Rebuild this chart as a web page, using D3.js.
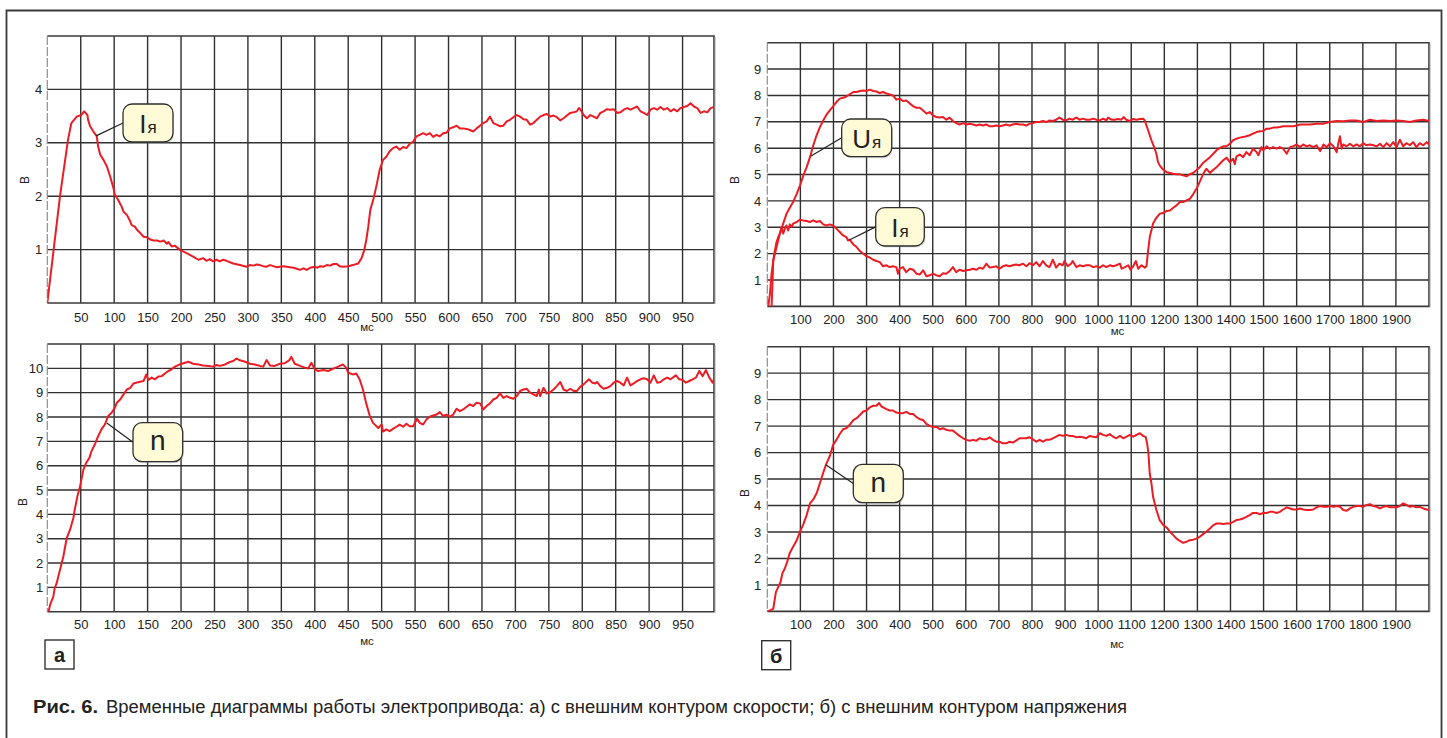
<!DOCTYPE html>
<html>
<head>
<meta charset="utf-8">
<script src="https://cdn.jsdelivr.net/npm/d3@7"></script>
<style>
  body { margin: 0; background: #fff; }
  svg { display: block; }
  text { font-family: "Liberation Sans", Arial, Helvetica, sans-serif; fill: #222; }
</style>
</head>
<body>
<svg id="fig" width="1447" height="738"></svg>
<script>
// ---- Measured oscillograms: [time, ms ; signal, V] ----

// (a) speed loop: armature current Iя
const currentA = [
  [0,0],[19,2.0],[31,3.06],[36,3.37],[44,3.49],[51,3.52],[55,3.59],[60,3.52],[61,3.43],[64,3.31],
  [69,3.21],[74,3.12],[76,2.93],[79,2.78],[84,2.68],[89,2.56],[94,2.37],[99,2.15],[101,2.03],[106,1.93],
  [111,1.81],[114,1.71],[119,1.65],[124,1.53],[126,1.46],[131,1.43],[134,1.37],[139,1.31],[144,1.24],[149,1.23],
  [154,1.19],[159,1.17],[164,1.17],[169,1.15],[174,1.17],[179,1.11],[181,1.14],[186,1.06],[191,1.07],[199,0.99],
  [209,0.93],[218,0.87],[226,0.81],[233,0.84],[238,0.79],[243,0.82],[248,0.78],[253,0.81],[258,0.78],[263,0.81],
  [268,0.79],[278,0.74],[288,0.71],[298,0.68],[303,0.71],[308,0.70],[313,0.72],[318,0.71],[323,0.69],[328,0.68],
  [333,0.71],[338,0.69],[343,0.67],[348,0.68],[353,0.69],[358,0.68],[363,0.67],[368,0.66],[373,0.64],[378,0.62],
  [383,0.65],[388,0.62],[393,0.66],[400,0.68],[404,0.66],[408,0.69],[413,0.68],[418,0.71],[423,0.70],[428,0.73],
  [433,0.73],[437,0.69],[442,0.68],[450,0.69],[457,0.71],[465,0.74],[470,0.84],[474,0.99],[477,1.18],[480,1.43],
  [483,1.74],[488,1.96],[493,2.24],[497,2.49],[502,2.68],[507,2.74],[512,2.84],[517,2.90],[522,2.93],[527,2.87],
  [532,2.92],[537,2.90],[542,2.98],[547,3.02],[552,3.12],[557,3.15],[562,3.18],[567,3.15],[572,3.18],[577,3.11],
  [582,3.15],[587,3.12],[592,3.18],[597,3.19],[602,3.27],[607,3.29],[612,3.32],[617,3.27],[622,3.27],[627,3.26],
  [632,3.24],[637,3.21],[642,3.27],[647,3.32],[652,3.37],[657,3.40],[662,3.49],[667,3.37],[672,3.34],[677,3.31],
  [682,3.32],[687,3.40],[692,3.43],[697,3.48],[702,3.52],[707,3.49],[712,3.44],[717,3.43],[722,3.34],[727,3.37],
  [732,3.43],[737,3.49],[742,3.52],[747,3.54],[752,3.49],[757,3.51],[762,3.48],[767,3.42],[772,3.46],[777,3.51],
  [782,3.56],[787,3.57],[792,3.59],[795,3.65],[797,3.63],[802,3.52],[807,3.46],[812,3.52],[817,3.49],[822,3.46],
  [827,3.56],[832,3.59],[837,3.63],[842,3.62],[847,3.63],[852,3.56],[857,3.57],[862,3.62],[867,3.65],[872,3.62],
  [877,3.65],[882,3.68],[887,3.59],[892,3.56],[897,3.52],[902,3.62],[907,3.65],[912,3.62],[917,3.67],[922,3.62],
  [927,3.65],[932,3.59],[937,3.63],[942,3.59],[947,3.65],[952,3.67],[957,3.69],[962,3.74],[967,3.68],[972,3.65],
  [977,3.56],[982,3.59],[987,3.57],[992,3.65],[997,3.67]
];

// (a) speed loop: speed n
const speedA = [
  [2,0],[4,0.27],[9,0.62],[11,0.96],[14,1.17],[19,1.72],[24,2.27],[29,3.02],[34,3.37],[39,3.85],
  [41,4.19],[45,4.74],[49,5.15],[54,5.84],[58,6.11],[63,6.32],[66,6.59],[71,6.87],[76,7.21],[81,7.49],
  [86,7.69],[91,8.04],[96,8.17],[101,8.38],[104,8.59],[109,8.72],[114,8.93],[119,9.13],[124,9.20],[129,9.38],
  [134,9.42],[139,9.45],[144,9.48],[148,9.75],[151,9.52],[156,9.62],[161,9.55],[166,9.66],[171,9.68],[176,9.79],
  [181,9.89],[186,9.96],[191,10.07],[198,10.16],[206,10.23],[211,10.27],[218,10.19],[226,10.16],[233,10.12],[241,10.10],
  [248,10.07],[253,10.14],[258,10.10],[266,10.16],[273,10.26],[278,10.30],[283,10.40],[288,10.33],[296,10.27],[303,10.19],
  [310,10.16],[318,10.10],[323,10.07],[328,10.34],[333,10.12],[340,10.10],[348,10.19],[355,10.21],[362,10.34],[365,10.47],
  [370,10.19],[378,10.10],[385,10.03],[390,9.99],[395,10.23],[400,9.96],[405,9.89],[413,9.93],[420,9.89],[428,9.99],
  [435,10.07],[442,10.16],[447,10.03],[450,9.82],[457,9.75],[462,9.79],[467,9.55],[472,9.13],[477,8.55],[482,8.07],
  [487,7.76],[495,7.55],[500,7.69],[502,7.40],[507,7.49],[512,7.42],[517,7.51],[522,7.60],[527,7.69],[532,7.60],
  [537,7.72],[542,7.62],[547,7.62],[553,7.93],[557,7.76],[562,7.69],[567,7.90],[572,8.01],[577,8.06],[582,8.10],
  [587,8.20],[592,8.04],[597,8.10],[602,8.01],[607,8.10],[612,8.34],[617,8.24],[622,8.31],[627,8.42],[632,8.52],
  [637,8.45],[642,8.59],[647,8.56],[652,8.31],[657,8.45],[662,8.56],[667,8.72],[672,8.79],[677,8.97],[682,8.79],
  [687,8.86],[692,8.79],[697,8.75],[702,8.86],[707,9.07],[712,9.13],[717,9.16],[722,9.00],[727,8.93],[732,8.86],
  [735,9.13],[737,8.86],[742,9.20],[747,8.97],[752,9.02],[757,9.13],[762,9.27],[767,9.44],[772,9.13],[777,9.07],
  [782,9.16],[787,9.07],[792,9.07],[797,9.24],[802,9.34],[810,9.55],[815,9.41],[820,9.38],[822,9.44],[827,9.27],
  [832,9.16],[837,9.20],[842,9.27],[847,9.41],[852,9.48],[857,9.41],[862,9.30],[867,9.62],[872,9.30],[877,9.38],
  [882,9.48],[887,9.55],[892,9.59],[897,9.55],[902,9.41],[907,9.71],[912,9.41],[917,9.44],[922,9.55],[927,9.62],
  [932,9.55],[940,9.71],[945,9.55],[950,9.52],[955,9.41],[960,9.48],[965,9.55],[970,9.62],[975,9.89],[980,9.68],
  [985,9.93],[990,9.62],[995,9.41],[997,9.55]
];

// (б) voltage loop: armature voltage Uя
const voltageB = [
  [3,0],[8,0.48],[13,1.24],[18,1.74],[28,2.25],[38,2.76],[48,3.14],[58,3.51],[68,3.74],[78,3.96],
  [89,4.27],[99,4.59],[109,4.97],[119,5.28],[129,5.66],[139,6.11],[149,6.49],[159,6.80],[169,7.05],[179,7.27],
  [189,7.43],[199,7.59],[209,7.75],[219,7.88],[229,7.91],[239,7.96],[249,8.04],[260,8.13],[270,8.13],[280,8.17],
  [290,8.19],[300,8.17],[310,8.22],[320,8.17],[330,8.15],[340,8.09],[350,8.13],[360,8.07],[370,8.04],[380,8.00],
  [390,7.84],[400,7.88],[410,7.79],[420,7.81],[431,7.69],[441,7.59],[451,7.53],[461,7.53],[471,7.43],[481,7.31],
  [491,7.37],[501,7.24],[511,7.18],[521,7.16],[531,7.18],[541,7.08],[551,7.16],[561,7.03],[571,6.95],[581,6.90],
  [592,6.95],[602,6.90],[612,6.93],[622,6.90],[632,6.86],[642,6.90],[652,6.86],[662,6.90],[672,6.83],[682,6.83],
  [692,6.86],[702,6.83],[712,6.86],[722,6.90],[732,6.86],[742,6.90],[752,6.93],[762,6.90],[773,6.90],[783,6.86],
  [793,6.93],[803,6.95],[813,6.99],[823,6.99],[833,7.03],[843,6.99],[853,7.05],[863,7.03],[873,7.08],[883,7.16],
  [893,7.08],[903,7.05],[913,7.12],[923,7.08],[934,7.16],[944,7.08],[954,7.12],[964,7.08],[975,7.08],[985,7.12],
  [995,7.08],[1005,7.05],[1015,7.12],[1025,7.05],[1030,7.16],[1040,7.08],[1050,7.08],[1060,7.11],[1070,7.08],[1077,7.18],
  [1085,7.08],[1095,7.03],[1106,7.11],[1116,7.08],[1126,7.11],[1136,7.12],[1141,7.05],[1146,6.86],[1151,6.68],[1156,6.49],
  [1161,6.30],[1166,6.14],[1171,5.98],[1176,5.79],[1181,5.47],[1186,5.35],[1197,5.18],[1207,5.09],[1217,5.06],[1227,5.03],
  [1237,5.01],[1247,5.01],[1257,4.97],[1267,4.93],[1277,5.01],[1287,5.06],[1297,5.16],[1307,5.28],[1317,5.44],[1327,5.54],
  [1338,5.66],[1348,5.79],[1358,5.92],[1368,6.01],[1378,6.07],[1388,6.07],[1398,6.17],[1408,6.30],[1418,6.36],[1428,6.40],
  [1438,6.42],[1448,6.45],[1458,6.49],[1468,6.55],[1479,6.61],[1489,6.64],[1499,6.65],[1509,6.74],[1519,6.74],[1529,6.78],
  [1539,6.78],[1549,6.80],[1559,6.83],[1570,6.83],[1580,6.83],[1590,6.83],[1600,6.86],[1610,6.90],[1620,6.90],[1640,6.90],
  [1660,6.93],[1680,6.93],[1700,6.99],[1721,7.03],[1741,7.02],[1761,7.05],[1781,7.05],[1801,6.99],[1821,7.08],[1842,7.03],
  [1862,7.05],[1882,7.03],[1902,7.05],[1922,7.03],[1942,6.99],[1962,7.05],[1983,7.08],[2000,7.03]
];

// (б) voltage loop: armature current Iя
const currentB = [
  [13,0],[16,0.99],[18,1.74],[23,2.12],[28,2.44],[33,2.63],[38,2.76],[43,3.01],[48,2.76],[53,2.95],
  [58,3.07],[63,2.88],[68,3.11],[74,3.01],[78,3.14],[89,3.20],[99,3.29],[109,3.26],[119,3.24],[129,3.20],
  [139,3.26],[149,3.20],[159,3.24],[169,3.11],[179,3.07],[189,3.11],[199,3.07],[209,2.95],[219,2.82],[229,2.69],
  [239,2.63],[244,2.50],[249,2.53],[260,2.35],[270,2.25],[280,2.10],[290,2.00],[300,1.90],[310,1.85],[320,1.77],
  [330,1.72],[340,1.68],[350,1.52],[360,1.56],[370,1.49],[380,1.52],[390,1.49],[395,1.24],[400,1.43],[410,1.49],
  [420,1.30],[431,1.43],[441,1.39],[451,1.24],[461,1.21],[471,1.37],[481,1.14],[491,1.18],[501,1.24],[511,1.18],
  [521,1.14],[531,1.26],[541,1.24],[551,1.34],[561,1.49],[571,1.30],[581,1.39],[592,1.34],[602,1.37],[612,1.39],
  [622,1.43],[632,1.39],[642,1.47],[652,1.43],[662,1.62],[672,1.47],[682,1.49],[692,1.52],[702,1.43],[712,1.52],
  [722,1.56],[732,1.52],[742,1.56],[752,1.59],[762,1.56],[773,1.62],[783,1.52],[793,1.64],[803,1.56],[813,1.68],
  [823,1.52],[833,1.72],[843,1.56],[853,1.49],[863,1.77],[873,1.47],[883,1.62],[893,1.56],[898,1.72],[908,1.52],
  [918,1.62],[923,1.72],[934,1.49],[944,1.56],[954,1.52],[964,1.56],[975,1.56],[985,1.49],[995,1.52],[1005,1.47],
  [1015,1.56],[1025,1.49],[1035,1.56],[1045,1.52],[1055,1.56],[1066,1.62],[1071,1.43],[1081,1.49],[1091,1.56],[1098,1.39],
  [1106,1.52],[1114,1.72],[1121,1.43],[1131,1.56],[1141,1.47],[1146,1.52],[1151,2.12],[1156,2.63],[1166,3.14],[1176,3.36],
  [1186,3.51],[1197,3.54],[1207,3.62],[1217,3.64],[1227,3.74],[1237,3.83],[1247,3.96],[1257,3.96],[1267,4.02],[1277,4.08],
  [1287,4.25],[1297,4.46],[1307,4.72],[1317,5.01],[1327,5.22],[1338,5.06],[1348,5.18],[1358,5.28],[1368,5.41],[1378,5.54],
  [1388,5.64],[1398,5.47],[1408,5.60],[1413,5.39],[1418,5.69],[1428,5.76],[1438,5.66],[1448,5.85],[1458,5.73],[1468,5.98],
  [1479,5.85],[1484,5.73],[1494,6.04],[1499,5.92],[1509,6.07],[1519,5.98],[1529,6.04],[1539,5.98],[1549,6.04],[1559,5.98],
  [1570,5.79],[1580,6.04],[1590,6.07],[1600,6.14],[1610,6.04],[1620,6.14],[1630,6.07],[1640,6.11],[1650,6.04],[1660,6.11],
  [1671,5.89],[1681,6.14],[1691,6.04],[1701,6.19],[1711,6.07],[1721,5.85],[1726,6.19],[1731,6.45],[1736,5.98],[1741,6.14],
  [1751,6.07],[1761,6.17],[1771,6.07],[1781,6.14],[1791,6.07],[1801,6.19],[1811,6.11],[1822,6.14],[1832,6.11],[1842,6.07],
  [1852,6.17],[1862,6.04],[1872,6.19],[1882,6.07],[1892,6.23],[1902,6.04],[1912,6.32],[1922,6.07],[1932,6.19],[1942,6.11],
  [1952,6.23],[1962,6.04],[1972,6.19],[1983,6.11],[1993,6.23],[2000,6.14]
];

// (б) voltage loop: speed n
const speedB = [
  [0,0],[8,0.04],[18,0.10],[26,0.73],[33,0.92],[40,1.11],[46,1.45],[53,1.62],[60,1.87],[68,2.21],
  [78,2.44],[89,2.69],[99,3.01],[109,3.30],[119,3.64],[129,4.08],[139,4.23],[149,4.46],[159,4.84],[169,5.24],
  [179,5.59],[189,5.87],[199,6.29],[209,6.48],[219,6.70],[229,6.88],[239,6.92],[249,7.05],[260,7.23],[270,7.30],
  [280,7.42],[290,7.55],[300,7.59],[310,7.71],[320,7.77],[330,7.77],[338,7.87],[345,7.74],[350,7.71],[360,7.64],
  [370,7.59],[380,7.59],[390,7.51],[400,7.49],[410,7.49],[420,7.54],[431,7.46],[441,7.46],[451,7.34],[461,7.26],
  [471,7.23],[481,7.08],[491,7.01],[501,6.96],[511,6.98],[521,6.88],[531,6.92],[541,6.86],[551,6.83],[561,6.83],
  [571,6.73],[581,6.63],[592,6.54],[602,6.48],[612,6.45],[622,6.48],[632,6.45],[642,6.54],[652,6.50],[662,6.50],
  [672,6.58],[682,6.48],[692,6.41],[702,6.41],[712,6.35],[722,6.35],[732,6.41],[742,6.38],[752,6.45],[762,6.54],
  [773,6.54],[783,6.54],[793,6.58],[803,6.50],[813,6.41],[823,6.48],[833,6.41],[843,6.48],[853,6.48],[863,6.54],
  [873,6.60],[883,6.67],[893,6.63],[903,6.67],[913,6.63],[923,6.63],[934,6.58],[944,6.60],[954,6.58],[964,6.54],
  [975,6.63],[985,6.60],[995,6.58],[1005,6.73],[1015,6.67],[1025,6.63],[1035,6.70],[1045,6.60],[1055,6.54],[1066,6.63],
  [1076,6.54],[1086,6.60],[1096,6.67],[1106,6.60],[1116,6.67],[1126,6.73],[1136,6.63],[1144,6.58],[1148,6.35],[1152,5.97],
  [1156,5.21],[1161,4.84],[1166,4.33],[1176,3.83],[1186,3.45],[1197,3.26],[1207,3.17],[1217,3.01],[1227,2.88],[1237,2.75],
  [1247,2.66],[1257,2.59],[1267,2.63],[1277,2.69],[1287,2.71],[1297,2.75],[1307,2.82],[1317,2.92],[1327,3.01],[1338,3.13],
  [1348,3.26],[1358,3.32],[1368,3.32],[1378,3.30],[1388,3.32],[1398,3.32],[1408,3.38],[1418,3.45],[1428,3.47],[1438,3.51],
  [1448,3.57],[1458,3.64],[1468,3.72],[1479,3.72],[1489,3.67],[1499,3.72],[1509,3.72],[1519,3.76],[1529,3.76],[1539,3.72],
  [1549,3.76],[1559,3.85],[1570,3.93],[1580,3.89],[1590,3.85],[1600,3.85],[1610,3.89],[1620,3.85],[1630,3.83],[1640,3.83],
  [1650,3.85],[1660,3.93],[1671,3.98],[1681,3.95],[1691,3.95],[1701,3.98],[1711,3.95],[1721,3.98],[1731,3.95],[1741,3.83],
  [1751,3.80],[1761,3.89],[1771,3.95],[1781,3.98],[1791,3.98],[1801,3.95],[1811,4.02],[1822,4.05],[1832,3.98],[1842,3.95],
  [1852,3.89],[1862,3.95],[1872,3.98],[1882,3.93],[1892,3.93],[1902,3.93],[1912,3.98],[1922,4.08],[1932,4.02],[1942,3.95],
  [1952,3.98],[1962,3.93],[1972,3.95],[1983,3.89],[1993,3.85],[2000,3.83]
];

// ---- Tick labels ----
const xTicksA = [50,100,150,200,250,300,350,400,450,500,550,600,650,700,750,800,850,900,950];
const xTicksB = [100,200,300,400,500,600,700,800,900,1000,1100,1200,1300,1400,1500,1600,1700,1800,1900];
const yTicksA1 = [1,2,3,4];
const yTicksA2 = [1,2,3,4,5,6,7,8,9,10];
const yTicksB = [1,2,3,4,5,6,7,8,9];

// ---- Texts ----
const unitX = "мс";
const unitY = "В";
const captionBold = "Рис. 6.";
const captionText = "Временные диаграммы работы электропривода: а) с внешним контуром скорости; б) с внешним контуром напряжения";

const RED = "#ec1c24";
const GRID = "#303030";

const svg = d3.select("#fig");

// page frame (open at the bottom edge of the page)
svg.append("path")
  .attr("d", "M6.5,740 V10.5 H1441.5 V740")
  .attr("fill", "none").attr("stroke", "#3a3a3a").attr("stroke-width", 1.8);

function drawPanel(p) {
  const x = d3.scaleLinear().domain(p.xDomain).range([p.left, p.right]);
  const y = d3.scaleLinear().domain(p.yDomain).range([p.bottom, p.top]);
  const g = svg.append("g");

  // grid
  g.append("g").selectAll("line").data(p.xTicks).join("line")
    .attr("x1", d => x(d)).attr("x2", d => x(d))
    .attr("y1", p.top).attr("y2", p.bottom)
    .attr("stroke", GRID).attr("stroke-width", 1.4);
  g.append("g").selectAll("line").data(p.yTicks).join("line")
    .attr("x1", p.left).attr("x2", p.right)
    .attr("y1", d => y(d)).attr("y2", d => y(d))
    .attr("stroke", GRID).attr("stroke-width", 1.4);

  // frame: top and right dark, bottom dark, left light dashed
  g.append("path")
    .attr("d", `M${p.left},${p.top} H${p.right} V${p.bottom} H${p.left}`)
    .attr("fill", "none").attr("stroke", "#3a3a3a").attr("stroke-width", 1.6);
  g.append("line")
    .attr("x1", p.right + 1.2).attr("x2", p.right + 1.2)
    .attr("y1", p.top + 1).attr("y2", p.bottom + 1)
    .attr("stroke", "#bdbdbd").attr("stroke-width", 1);
  g.append("line")
    .attr("x1", p.left).attr("x2", p.left)
    .attr("y1", p.top).attr("y2", p.bottom)
    .attr("stroke", "#8d8d8d").attr("stroke-width", 1.2)
    .attr("stroke-dasharray", "9,2");

  // axes (labels only)
  const ax = g.append("g").attr("transform", `translate(0,${p.bottom})`)
    .call(d3.axisBottom(x).tickValues(p.xTicks).tickSize(0).tickPadding(p.xPad).tickFormat(d3.format("d")));
  ax.select(".domain").remove();
  ax.selectAll("text").attr("font-size", 13).attr("fill", "#222")
    .attr("font-family", "'Liberation Sans', Arial, sans-serif");

  const ay = g.append("g").attr("transform", `translate(${p.left},0)`)
    .call(d3.axisLeft(y).tickValues(p.yTicks).tickSize(0).tickPadding(p.yPad).tickFormat(d3.format("d")));
  ay.select(".domain").remove();
  ay.selectAll("text").attr("font-size", 13).attr("fill", "#222")
    .attr("font-family", "'Liberation Sans', Arial, sans-serif");

  // axis units
  g.append("text").attr("x", p.unitX[0]).attr("y", p.unitX[1])
    .attr("text-anchor", "middle").attr("font-size", 11.5).text(unitX);
  g.append("text")
    .attr("transform", `translate(${p.unitY[0]},${p.unitY[1]}) rotate(-90)`)
    .attr("text-anchor", "middle").attr("font-size", 12).text(unitY);

  // curves
  const clipId = "clip" + p.id;
  svg.append("clipPath").attr("id", clipId).append("rect")
    .attr("x", p.left).attr("y", p.top - 1)
    .attr("width", p.right - p.left).attr("height", p.bottom - p.top + 1);
  const line = d3.line().x(d => x(d[0])).y(d => y(d[1]));
  p.series.forEach(s => {
    g.append("path").datum(s)
      .attr("clip-path", `url(#${clipId})`)
      .attr("d", line)
      .attr("fill", "none").attr("stroke", RED)
      .attr("stroke-width", 2).attr("stroke-linejoin", "round");
  });

  // callouts
  p.callouts.forEach(c => {
    const ax0 = x(c.at[0]), ay0 = y(c.at[1]);
    g.append("line")
      .attr("x1", ax0).attr("y1", ay0)
      .attr("x2", c.box[0]).attr("y2", c.box[1] + c.box[3] * 0.5)
      .attr("stroke", "#222").attr("stroke-width", 1.2);
    g.append("rect")
      .attr("x", c.box[0] + 1).attr("y", c.box[1] + 1.5)
      .attr("width", c.box[2]).attr("height", c.box[3])
      .attr("rx", 9).attr("fill", "#9a9a9a").attr("opacity", 0.35);
    g.append("rect")
      .attr("x", c.box[0]).attr("y", c.box[1])
      .attr("width", c.box[2]).attr("height", c.box[3])
      .attr("rx", 9).attr("fill", "#fffbd6")
      .attr("stroke", "#2e2e2e").attr("stroke-width", 1.3);
    const t = g.append("text")
      .attr("x", c.box[0] + c.box[2] / 2)
      .attr("y", c.box[1] + c.box[3] / 2 + c.base)
      .attr("text-anchor", "middle").attr("fill", "#111");
    t.append("tspan").attr("font-size", c.mainSize).text(c.main);
    if (c.sub) t.append("tspan").attr("font-size", 17).attr("dx", 1).text(c.sub);
  });
}

const panels = [
  { id: "a1", left: 47.3, right: 714, top: 36, bottom: 303,
    xDomain: [0, 997], yDomain: [0, 5], xTicks: xTicksA, yTicks: yTicksA1,
    xPad: 9.3, yPad: 5, unitX: [367, 331], unitY: [28.5, 180],
    series: [currentA],
    callouts: [{ at: [73, 3.13], box: [123, 104, 50, 38], main: "I", sub: "я", mainSize: 26, base: 10 }] },
  { id: "a2", left: 47.3, right: 714, top: 344, bottom: 611.7,
    xDomain: [0, 997], yDomain: [0, 11], xTicks: xTicksA, yTicks: yTicksA2,
    xPad: 8.5, yPad: 4, unitX: [367, 645], unitY: [26.5, 502],
    series: [speedA],
    callouts: [{ at: [89, 7.75], box: [133, 422.7, 49.7, 39], main: "n", mainSize: 28, base: 8 }] },
  { id: "b1", left: 767.3, right: 1429, top: 42.7, bottom: 306.4,
    xDomain: [0, 2000], yDomain: [0, 10], xTicks: xTicksB, yTicks: yTicksB,
    xPad: 8, yPad: 6, unitX: [1117.5, 335], unitY: [739, 180],
    series: [voltageB, currentB],
    callouts: [
      { at: [131, 5.69], box: [841.7, 119, 50, 37.7], main: "U", sub: "я", mainSize: 26, base: 10 },
      { at: [248, 2.52], box: [875.7, 207.7, 48.6, 38.3], main: "I", sub: "я", mainSize: 26, base: 10 }
    ] },
  { id: "b2", left: 767.3, right: 1429, top: 346.7, bottom: 611.4,
    xDomain: [0, 2000], yDomain: [0, 10], xTicks: xTicksB, yTicks: yTicksB,
    xPad: 8, yPad: 6, unitX: [1117, 647.5], unitY: [748.5, 493],
    series: [speedB],
    callouts: [{ at: [177, 5.54], box: [853.3, 464.3, 50, 38.4], main: "n", mainSize: 28, base: 8 }] }
];

panels.forEach(drawPanel);

// sub-figure letters
[["а", 45, 640], ["б", 761.7, 640.7]].forEach(([s, bx, by]) => {
  svg.append("rect").attr("x", bx).attr("y", by).attr("width", 29).attr("height", 29)
    .attr("fill", "#fff").attr("stroke", "#333").attr("stroke-width", 1.4);
  svg.append("text").attr("x", bx + 14.5).attr("y", by + 22)
    .attr("text-anchor", "middle").attr("font-size", 20).attr("font-weight", "bold")
    .attr("fill", "#111").text(s);
});

// figure caption
svg.append("text").attr("x", 33).attr("y", 713)
  .attr("font-size", 18).attr("font-weight", "bold").attr("fill", "#111")
  .attr("textLength", 65).attr("lengthAdjust", "spacingAndGlyphs")
  .text(captionBold);
svg.append("text").attr("x", 106).attr("y", 713)
  .attr("font-size", 18).attr("fill", "#222")
  .attr("textLength", 1021).attr("lengthAdjust", "spacingAndGlyphs")
  .text(captionText);
</script>
</body>
</html>
